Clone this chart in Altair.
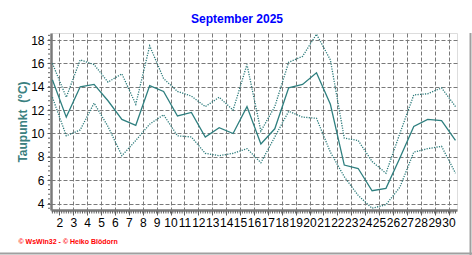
import altair as alt
import pandas as pd
import numpy as np

days = list(range(1, 31))
t_max = [16.0, 13.1, 16.3, 15.9, 14.4, 15.1, 12.5, 17.5, 14.7, 13.6,
         13.2, 12.3, 13.1, 12.0, 15.9, 10.2, 12.3, 16.1, 16.6, 18.5,
         16.3, 9.6, 9.4, 7.6, 6.6, 10.0, 13.3, 13.4, 13.9, 12.3]
t_mean = [14.6, 11.4, 14.0, 14.2, 12.8, 11.2, 10.7, 14.1, 13.6, 11.5,
          11.8, 9.7, 10.5, 10.0, 12.3, 9.1, 10.4, 13.9, 14.2, 15.2,
          12.5, 7.3, 7.0, 5.1, 5.3, 7.9, 10.6, 11.2, 11.1, 9.4]
t_min = [13.1, 9.8, 10.3, 12.6, 10.6, 8.1, 9.4, 10.8, 11.6, 9.8,
         9.7, 8.3, 8.1, 8.3, 8.7, 7.5, 9.7, 11.9, 11.4, 11.3,
         8.4, 6.3, 4.7, 3.6, 3.9, 5.4, 8.4, 8.7, 8.9, 6.6]
x_labels = list(range(2, 31))
y_labels = [4, 6, 8, 10, 12, 14, 16, 18]

df = pd.DataFrame({"day": days, "pos": [d + 0.5 for d in days],
                   "tmax": t_max, "tmean": t_mean, "tmin": t_min})

W, H = 406, 177
X0, X1 = 1.40, 30.61
Y0, Y1 = 3.45, 18.6
xs = alt.Scale(domain=[X0, X1], nice=False, zero=False)
ys = alt.Scale(domain=[Y0, Y1], nice=False, zero=False)

TEAL = "#2E7F7F"
DOT = "#2A7A7A"
GRID = "#7A7A7A"
FONT = "Liberation Sans"

xaxis = alt.Axis(values=x_labels, grid=True, gridDash=[4, 2], gridColor=GRID, gridWidth=1,
                 domainColor=GRID, domainWidth=2.5, tickColor="#606060", tickSize=5,
                 labelFont=FONT, labelFontSize=12, labelColor="black", labelPadding=2,
                 labelOverlap=False, labelFlush=False, labelBound=False,
                 title="© WsWin32 - © Heiko Blödorn", titleX=-33, titleY=31,
                 titleAlign="left", titleBaseline="middle", titleColor="#FF0000",
                 titleFont=FONT, titleFontSize=7, titleFontWeight="bold")
yaxis = alt.Axis(values=y_labels, grid=True, gridDash=[4, 2], gridColor=GRID, gridWidth=1,
                 domainColor=GRID, domainWidth=2.5, tickColor="#606060", tickSize=4,
                 labelFont=FONT, labelFontSize=12, labelColor="black", labelPadding=3,
                 labelOverlap=False, labelFlush=False, labelBound=False,
                 title="Taupunkt\u00a0 (°C)", titleX=-29, titleY=H / 2, titleAngle=270,
                 titleAlign="center", titleBaseline="middle", titleColor="#3A8080",
                 titleFont=FONT, titleFontSize=12, titleFontWeight="bold")

base = alt.Chart(df)
mean_line = base.mark_line(color=TEAL, strokeWidth=1.3).encode(
    x=alt.X("pos:Q", scale=xs, axis=xaxis),
    y=alt.Y("tmean:Q", scale=ys, axis=yaxis),
)
max_line = base.mark_line(color=DOT, strokeWidth=1.3, strokeDash=[1.2, 1.3]).encode(
    x=alt.X("pos:Q", scale=xs, axis=xaxis),
    y=alt.Y("tmax:Q", scale=ys, axis=yaxis),
)
min_line = base.mark_line(color=DOT, strokeWidth=1.3, strokeDash=[1.2, 1.3]).encode(
    x=alt.X("pos:Q", scale=xs, axis=xaxis),
    y=alt.Y("tmin:Q", scale=ys, axis=yaxis),
)

xm = [v for v in np.round(np.arange(1.0, 31.0, 1 / 6), 4) if X0 <= v <= X1]
ym = [v for v in np.round(np.arange(3.6, 18.61, 0.4), 2) if Y0 <= v <= Y1]
xminor = alt.Chart(pd.DataFrame({"pos": xm})).mark_rule(color="#606060", strokeWidth=1).encode(
    x=alt.X("pos:Q", scale=xs, axis=xaxis), y=alt.value(H + 1), y2=alt.value(H + 3.5))
yminor = alt.Chart(pd.DataFrame({"tmean": ym})).mark_rule(color="#606060", strokeWidth=1).encode(
    y=alt.Y("tmean:Q", scale=ys, axis=yaxis), x=alt.value(-3), x2=alt.value(-1))

one = pd.DataFrame({"k": [0]})
rborder = alt.Chart(one).mark_rule(color="#A0A0A0", strokeWidth=2).encode(
    x=alt.value(419.5), y=alt.value(0), y2=alt.value(222))
bborder = alt.Chart(one).mark_rule(color="#A0A0A0", strokeWidth=2).encode(
    y=alt.value(220.5), x=alt.value(-51), x2=alt.value(421))

chart = alt.layer(mean_line, max_line, min_line, xminor, yminor, rborder, bborder).properties(
    width=W, height=H,
    title=alt.TitleParams("September 2025", anchor="middle", frame="group", dx=-17, offset=6,
                          color="#0000FF", font=FONT, fontSize=12, fontWeight="bold"),
    autosize=alt.AutoSizeParams(type="none"),
    padding={"left": 51, "top": 33, "right": 15, "bottom": 45},
).configure_view(stroke="black", strokeWidth=1.5).configure(background="white")

chart.save("out.html", embed_options={"renderer": "svg", "actions": False})
